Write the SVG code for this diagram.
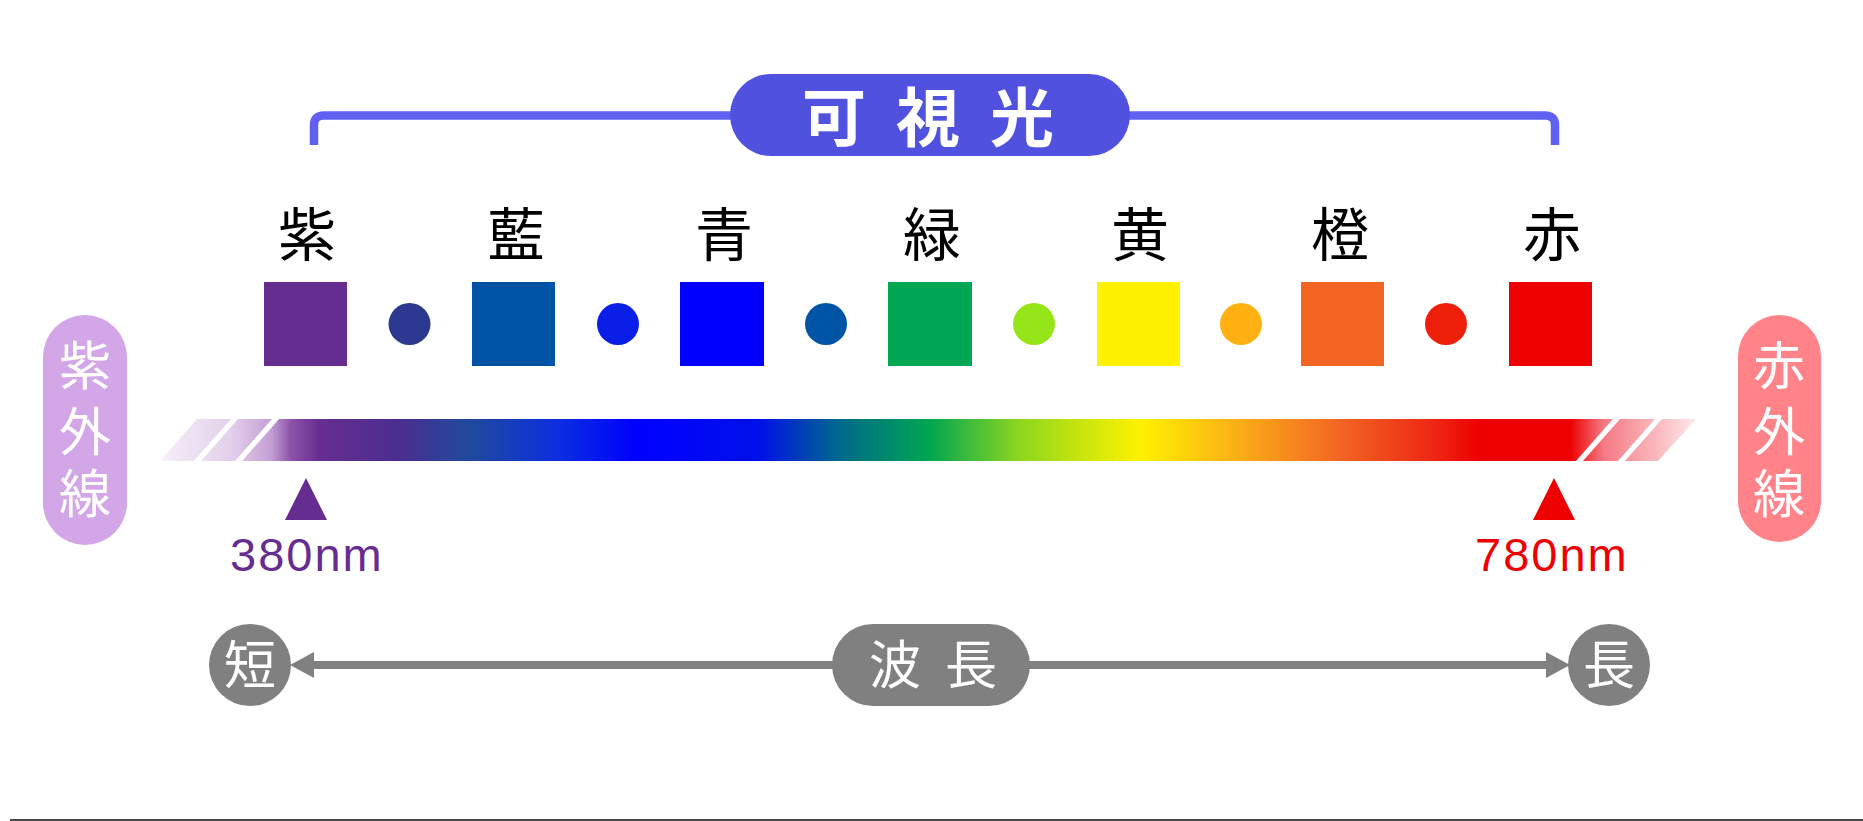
<svg xmlns="http://www.w3.org/2000/svg" width="1863" height="821" viewBox="0 0 1863 821">
<style>
.cjk{font-family:"Noto Sans CJK JP","Noto Sans CJK SC",sans-serif;text-anchor:middle}
.lbl{font-size:58px;fill:#000}
.wt{fill:#fff;font-size:52px}
.nm{font-family:"Liberation Sans",Arial,sans-serif;font-size:47px;letter-spacing:2px}
.sq{stroke:none}
.stripe{fill:#fff}
.gray{fill:#808080}
</style>
<defs>
<linearGradient id="spec" gradientUnits="userSpaceOnUse" x1="160" y1="0" x2="1696" y2="0">
<stop offset="0" stop-color="#f6eff9"/>
<stop offset="0.046" stop-color="#e3d0eb"/>
<stop offset="0.072" stop-color="#c4a0d4"/>
<stop offset="0.085" stop-color="#8d55aa"/>
<stop offset="0.104" stop-color="#662d91"/>
<stop offset="0.156" stop-color="#4a2e8e"/>
<stop offset="0.202" stop-color="#1f4a9c"/>
<stop offset="0.26" stop-color="#0a2ee0"/>
<stop offset="0.31" stop-color="#0000ff"/>
<stop offset="0.39" stop-color="#0010e8"/>
<stop offset="0.443" stop-color="#006a8a"/>
<stop offset="0.501" stop-color="#00a651"/>
<stop offset="0.56" stop-color="#8fd61e"/>
<stop offset="0.638" stop-color="#fff200"/>
<stop offset="0.703" stop-color="#fbad18"/>
<stop offset="0.768" stop-color="#f26522"/>
<stop offset="0.827" stop-color="#ee2a14"/>
<stop offset="0.859" stop-color="#ed0000"/>
<stop offset="0.918" stop-color="#ed0000"/>
<stop offset="0.94" stop-color="#f57a84"/>
<stop offset="1" stop-color="#fde8ea"/>
</linearGradient>
</defs>
<rect width="1863" height="821" fill="#fff"/>

<g id="connectors">
<path d="M314,145 V125 Q314,115.5 324,115.5 H1545 Q1555,115.5 1555,125 V145" fill="none" stroke="#6161f1" stroke-width="8.5"/>
<line x1="305" y1="665" x2="1555" y2="665" stroke="#808080" stroke-width="8"/>
<polygon class="gray" points="290,665 314,652 314,678"/>
<polygon class="gray" points="1570,665 1546,652 1546,678"/>
</g>

<g id="visible-light">
<rect x="730" y="74" width="400" height="82" rx="41" fill="#5151e0"/>
<text class="cjk" x="834 928 1022" y="141" font-size="64" font-weight="bold" fill="#fff">可視光</text>
</g>

<g id="violet">
<text class="cjk lbl" x="307" y="256">紫</text>
<rect class="sq" x="264" y="282" width="83" height="84" fill="#662d91"/>
</g>
<circle id="dot1" cx="409.5" cy="324" r="21" fill="#2b3990"/>
<g id="indigo">
<text class="cjk lbl" x="516" y="256">藍</text>
<rect class="sq" x="472" y="282" width="83" height="84" fill="#0054a6"/>
</g>
<circle id="dot2" cx="618" cy="324" r="21" fill="#0a1ee8"/>
<g id="blue">
<text class="cjk lbl" x="724" y="256">青</text>
<rect class="sq" x="680" y="282" width="84" height="84" fill="#0000ff"/>
</g>
<circle id="dot3" cx="826" cy="324" r="21" fill="#0054a6"/>
<g id="green">
<text class="cjk lbl" x="932" y="256">緑</text>
<rect class="sq" x="888" y="282" width="84" height="84" fill="#00a651"/>
</g>
<circle id="dot4" cx="1034" cy="324" r="21" fill="#96e518"/>
<g id="yellow">
<text class="cjk lbl" x="1140" y="256">黄</text>
<rect class="sq" x="1097" y="282" width="83" height="84" fill="#fff200"/>
</g>
<circle id="dot5" cx="1241" cy="324" r="21" fill="#ffb111"/>
<g id="orange">
<text class="cjk lbl" x="1340" y="256">橙</text>
<rect class="sq" x="1301" y="282" width="83" height="84" fill="#f26522"/>
</g>
<circle id="dot6" cx="1446" cy="324" r="21" fill="#ee1f0a"/>
<g id="red">
<text class="cjk lbl" x="1552" y="256">赤</text>
<rect class="sq" x="1509" y="282" width="83" height="84" fill="#ed0000"/>
</g>

<g id="spectrum">
<polygon points="197,419 1696,419 1658,461 160,461" fill="url(#spec)"/>
<polygon class="stripe" points="231,419 238,419 201,461 194,461"/>
<polygon class="stripe" points="272,419 279,419 242,461 235,461"/>
<polygon class="stripe" points="1613,419 1620,419 1583,461 1576,461"/>
<polygon class="stripe" points="1655,419 1662,419 1625,461 1618,461"/>
</g>

<g id="uv">
<rect x="43" y="315" width="84" height="230" rx="42" fill="#d3a6e8"/>
<text class="cjk wt" x="85 85 85" y="385 451 513">紫外線</text>
</g>

<g id="ir">
<rect x="1738" y="315" width="83" height="227" rx="41.5" fill="#ff8389"/>
<text class="cjk wt" x="1779 1779 1779" y="385 451 513">赤外線</text>
</g>

<g id="nm380">
<polygon points="306,478 285,520 327,520" fill="#662d91"/>
<text class="nm" x="230" y="571" fill="#662d91">380nm</text>
</g>

<g id="nm780">
<polygon points="1554,478 1533,520 1575,520" fill="#ed0000"/>
<text class="nm" x="1475" y="571" fill="#ed0000">780nm</text>
</g>

<g id="short">
<circle class="gray" cx="250" cy="665" r="41"/>
<text class="cjk wt" x="250" y="684">短</text>
</g>

<g id="wavelength">
<rect class="gray" x="832" y="624" width="198" height="82" rx="41"/>
<text class="cjk wt" x="895 971" y="684">波長</text>
</g>

<g id="long">
<circle class="gray" cx="1609" cy="665" r="41"/>
<text class="cjk wt" x="1609" y="684">長</text>
</g>

<rect id="baseline" x="10" y="819" width="1853" height="2" fill="#474747"/>
</svg>
